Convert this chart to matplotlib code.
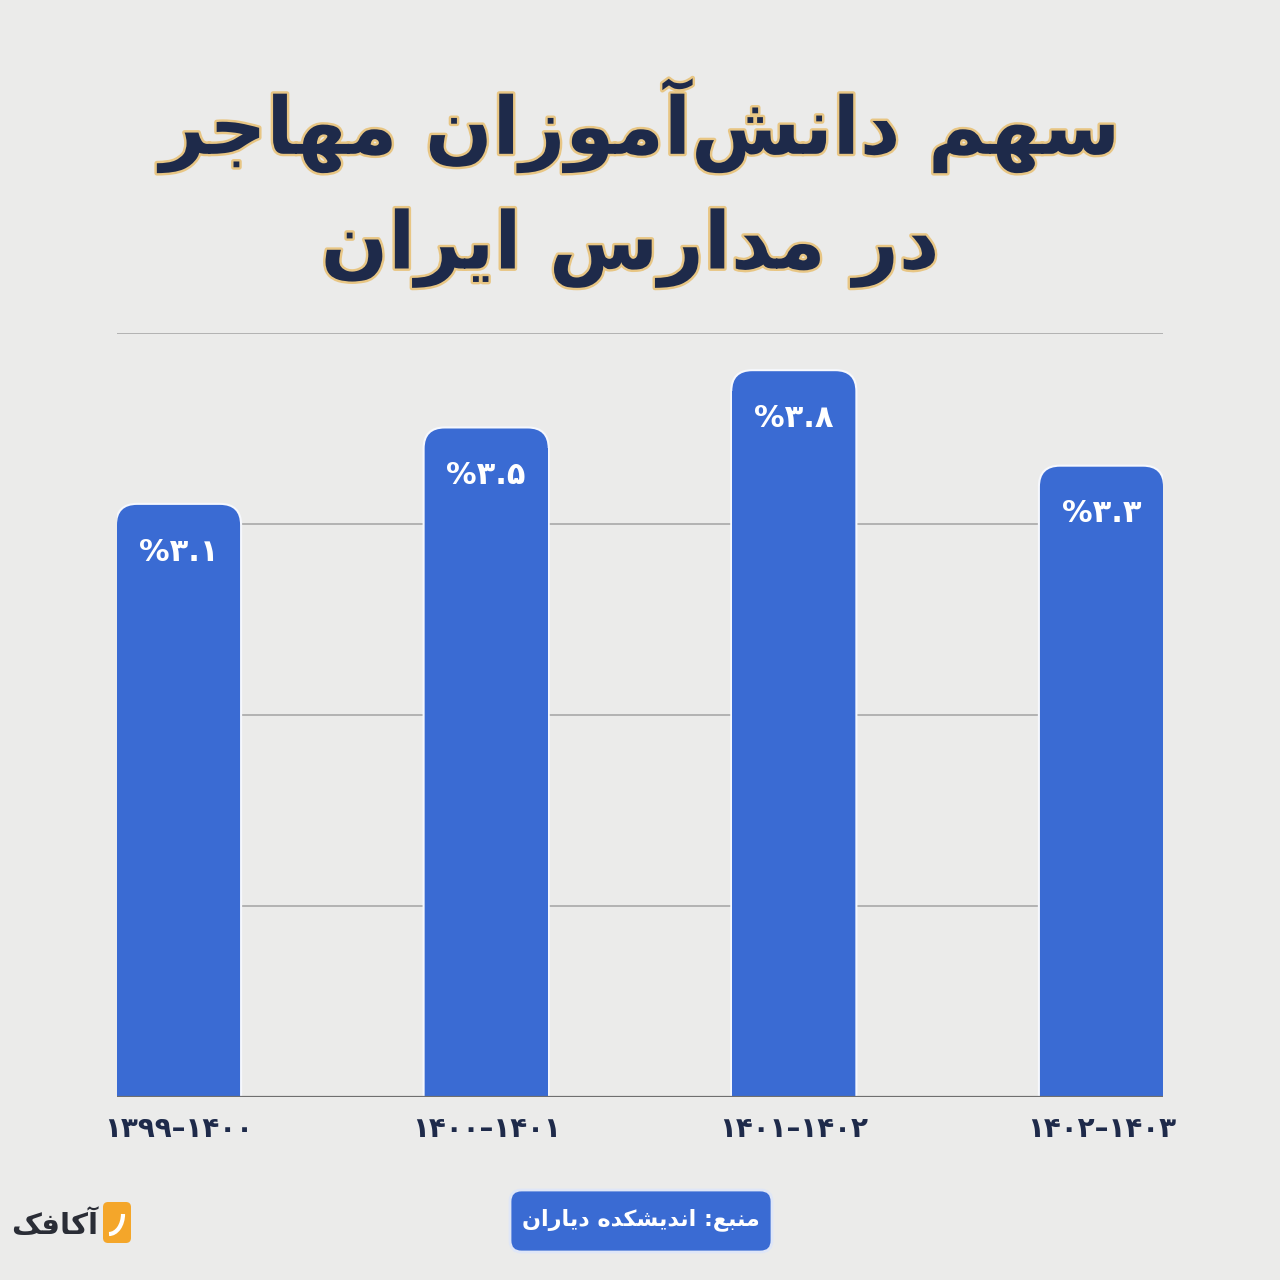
import matplotlib
matplotlib.use("Agg")
from matplotlib import pyplot as plt
from matplotlib.patches import FancyBboxPatch, Arc
import matplotlib.patheffects as pe
import numpy as np

# --- data ---
title_line1 = "سهم دانش\u200cآموزان مهاجر"
title_line2 = "در مدارس ایران"
periods = ["۱۳۹۹–۱۴۰۰", "۱۴۰۰–۱۴۰۱", "۱۴۰۱–۱۴۰۲", "۱۴۰۲–۱۴۰۳"]
shares = [3.1, 3.5, 3.8, 3.3]
share_labels = ["%۳.۱", "%۳.۵", "%۳.۸", "%۳.۳"]
source_text = "منبع: اندیشکده دیاران"
logo_text = "آکافک"

BG = "#ebebea"
BLUE = "#3a6bd3"
NAVY = "#1e2a4a"

# matplotlib has no arabic shaping, so pick presentation forms by hand
# (isolated, final, initial, medial)
FORMS = {
    "ا": ("\uFE8D", "\uFE8E", None, None),
    "آ": ("\uFE81", "\uFE82", None, None),
    "ب": ("\uFE8F", "\uFE90", "\uFE91", "\uFE92"),
    "ج": ("\uFE9D", "\uFE9E", "\uFE9F", "\uFEA0"),
    "د": ("\uFEA9", "\uFEAA", None, None),
    "ر": ("\uFEAD", "\uFEAE", None, None),
    "ز": ("\uFEAF", "\uFEB0", None, None),
    "س": ("\uFEB1", "\uFEB2", "\uFEB3", "\uFEB4"),
    "ش": ("\uFEB5", "\uFEB6", "\uFEB7", "\uFEB8"),
    "ع": ("\uFEC9", "\uFECA", "\uFECB", "\uFECC"),
    "ف": ("\uFED1", "\uFED2", "\uFED3", "\uFED4"),
    "م": ("\uFEE1", "\uFEE2", "\uFEE3", "\uFEE4"),
    "ن": ("\uFEE5", "\uFEE6", "\uFEE7", "\uFEE8"),
    "ه": ("\uFEE9", "\uFEEA", "\uFEEB", "\uFEEC"),
    "و": ("\uFEED", "\uFEEE", None, None),
    "ی": ("\uFBFC", "\uFBFD", "\uFBFE", "\uFBFF"),
    "ک": ("\uFB8E", "\uFB8F", "\uFB90", "\uFB91"),
}


def shape(text):
    out = []
    n = len(text)
    for i, ch in enumerate(text):
        if ch not in FORMS:
            if ch != "\u200c":
                out.append(ch)
            continue
        prev = text[i - 1] if i > 0 else ""
        nxt = text[i + 1] if i < n - 1 else ""
        joins_prev = prev in FORMS and FORMS[prev][2] is not None
        joins_next = FORMS[ch][2] is not None and nxt in FORMS
        iso, fin, ini, med = FORMS[ch]
        if joins_prev and joins_next:
            out.append(med)
        elif joins_prev:
            out.append(fin)
        elif joins_next:
            out.append(ini)
        else:
            out.append(iso)
    return "".join(out)[::-1]


def px(x, y):
    # pixel position (from top-left) -> figure fraction
    return x / 1280, 1 - y / 1280


plt.rcParams["font.family"] = ["DejaVu Sans"]

fig = plt.figure(figsize=(12.8, 12.8), dpi=100, facecolor=BG)
ax = fig.add_axes([117 / 1280, 1 - 1097 / 1280, 1046 / 1280, 764 / 1280])
ax.set_facecolor("none")

x = np.arange(len(shares))
width = 0.4
r_x, aspect = 0.065, 1.61  # corner radius in x units, y/x scale

# grid lines (hidden behind bars)
for yv in [1, 2, 3, 4]:
    ax.axhline(yv, color="#a3a3a3", lw=1.1, zorder=1)
ax.axhline(0, color="#6f6f6f", lw=1.6, zorder=4)

bars = ax.bar(x, shares, width=width, color=BLUE, linewidth=0, zorder=3)
for b in bars:
    x0, w, h = b.get_x(), b.get_width(), b.get_height()
    style = f"round,pad=0,rounding_size={r_x}"
    # rounded top; bottom corners fall below the axes and get clipped
    glow = FancyBboxPatch((x0, -0.5), w, h + 0.5, boxstyle=style,
                          mutation_aspect=aspect, fc="none", ec="#f6f8fd",
                          lw=3, zorder=2)
    fill = FancyBboxPatch((x0, -0.5), w, h + 0.5, boxstyle=style,
                          mutation_aspect=aspect, fc=BLUE, ec="none",
                          zorder=3)
    ax.add_patch(glow)
    ax.add_patch(fill)
    b.set_height(h - r_x * aspect)

for xi, v, lab in zip(x, shares, share_labels):
    ax.annotate(lab, (xi, v), xytext=(0, -34), textcoords="offset points",
                ha="center", va="center", color="white",
                fontsize=22, fontweight="bold", zorder=5)

ax.set_xlim(-width / 2, len(shares) - 1 + width / 2)
ax.set_ylim(0, 4)
ax.set_xticks(x, labels=periods)
ax.set_yticks([])
ax.tick_params(axis="x", length=0, pad=13, labelsize=20, labelcolor=NAVY)
for lbl in ax.get_xticklabels():
    lbl.set_fontweight("bold")
for s in ax.spines.values():
    s.set_visible(False)

# title
stroke = [pe.withStroke(linewidth=3.5, foreground="#e8c684")]
fig.text(*px(640, 126), shape(title_line1), ha="center", va="center",
         fontsize=57, fontweight="bold", color=NAVY, path_effects=stroke)
fig.text(*px(630, 248), shape(title_line2), ha="center", va="center",
         fontsize=57, fontweight="bold", color=NAVY, path_effects=stroke)

# source box
fig.patches.append(FancyBboxPatch(px(510, 1252), 262 / 1280, 62 / 1280,
                                  boxstyle="round,pad=0,rounding_size=0.009",
                                  transform=fig.transFigure, fc=BLUE,
                                  ec="#dfe6f7", lw=2))
fig.text(*px(641, 1220), shape(source_text), ha="center", va="center",
         fontsize=16, fontweight="bold", color="white")

# logo
fig.patches.append(FancyBboxPatch(px(103, 1243), 28 / 1280, 41 / 1280,
                                  boxstyle="round,pad=0,rounding_size=0.004",
                                  transform=fig.transFigure, fc="#f4a62a",
                                  ec="none"))
fig.patches.append(Arc(px(109, 1214), 28 / 1280, 40 / 1280,
                       theta1=270, theta2=360, transform=fig.transFigure,
                       color="white", lw=3))
fig.text(*px(98, 1226), shape(logo_text), ha="right", va="center",
         fontsize=21, fontweight="bold", color="#2a2d36")

fig.savefig("out.png", dpi=100, facecolor=BG)
